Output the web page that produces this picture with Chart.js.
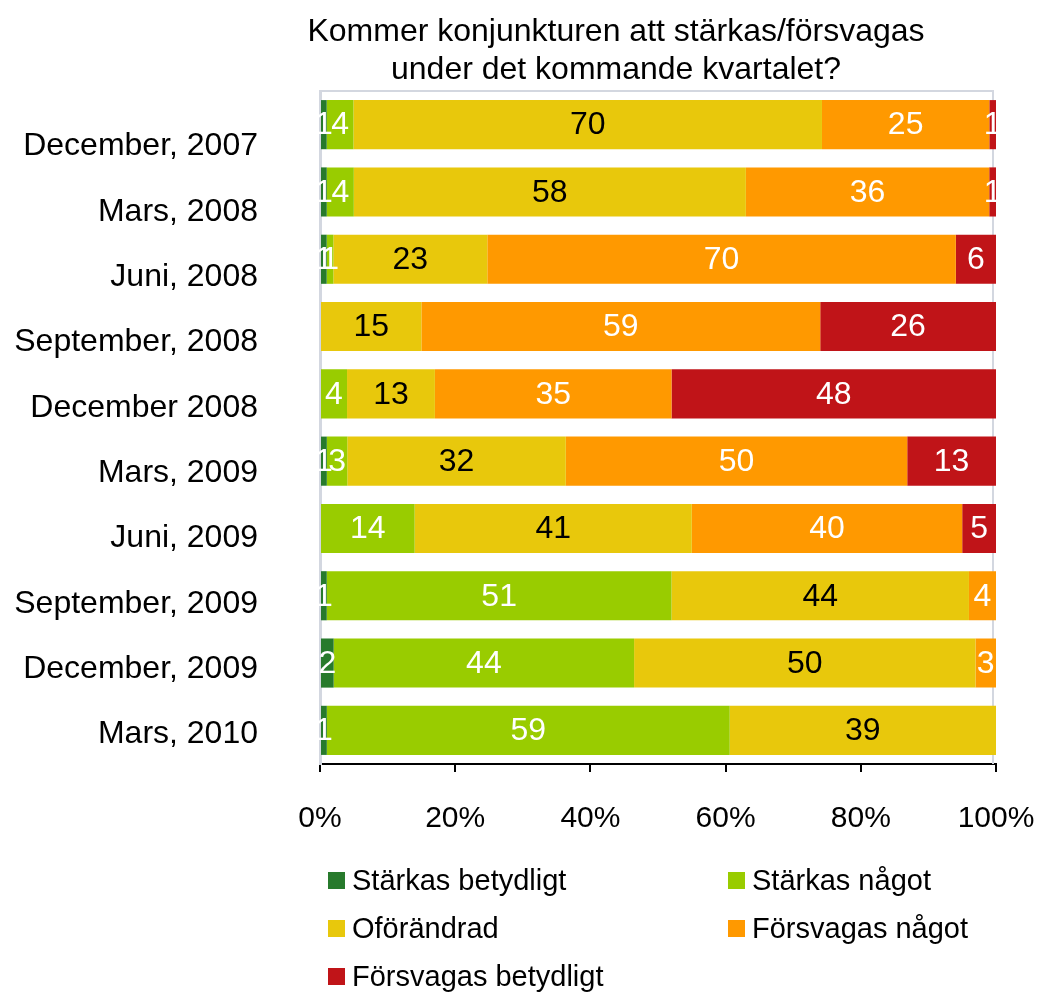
<!DOCTYPE html>
<html>
<head>
<meta charset="utf-8">
<script src="https://cdn.jsdelivr.net/npm/chart.js@4"></script>
<style>
  body { margin: 0; background: #fff; font-family: "Liberation Sans", Arial, sans-serif; }
  #wrap { position: relative; width: 1039px; height: 993px; }
  #title { position: absolute; left: 216px; width: 800px; top: 11px; text-align: center;
           font-size: 32px; line-height: 38px; color: #000; }
  #legend { position: absolute; left: 328px; top: 860px; width: 700px; }
  .item { position: absolute; font-size: 29px; line-height: 40px; color: #000; white-space: nowrap; }
  .box { display: inline-block; width: 17px; height: 17px; margin-right: 7px; vertical-align: 1px; }
</style>
</head>
<body>
<div id="wrap">
  <canvas id="myChart" width="1039" height="993"></canvas>
  <div id="title">Kommer konjunkturen att stärkas/försvagas<br>under det kommande kvartalet?</div>
  <div id="legend"></div>
</div>
<script>
const categories = [
  "December, 2007",
  "Mars, 2008",
  "Juni, 2008",
  "September, 2008",
  "December 2008",
  "Mars, 2009",
  "Juni, 2009",
  "September, 2009",
  "December, 2009",
  "Mars, 2010",
];

const seriesNames = ["Stärkas betydligt", "Stärkas något", "Oförändrad", "Försvagas något", "Försvagas betydligt"];

const starkasBetydligt = [1, 1, 1, 0, 0, 1, 0, 1, 2, 1];
const starkasNagot = [4, 4, 1, 0, 4, 3, 14, 51, 44, 59];
const oforandrad = [70, 58, 23, 15, 13, 32, 41, 44, 50, 39];
const forsvagasNagot = [25, 36, 70, 59, 35, 50, 40, 4, 3, 0];
const forsvagasBetydligt = [1, 1, 6, 26, 48, 13, 5, 0, 0, 0];

const xTicks = [0, 20, 40, 60, 80, 100];

const colors = ["#277a2c", "#99cc00", "#e8c80c", "#ff9900", "#c01418"];
const labelColors = ["#fff", "#fff", "#000", "#fff", "#fff"];

const allSeries = [starkasBetydligt, starkasNagot, oforandrad, forsvagasNagot, forsvagasBetydligt];

// each row shown as share of 100%
const rowSums = categories.map((c, i) => allSeries.reduce((s, arr) => s + arr[i], 0));

const FONT = '"Liberation Sans", Arial, sans-serif';

const barLabels = {
  id: "barLabels",
  afterDatasetsDraw(chart) {
    const ctx = chart.ctx;
    ctx.save();
    ctx.font = "32px " + FONT;
    ctx.textAlign = "center";
    ctx.textBaseline = "middle";
    chart.data.datasets.forEach((ds, di) => {
      const meta = chart.getDatasetMeta(di);
      meta.data.forEach((bar, i) => {
        const v = ds.values[i];
        if (!v) return;
        ctx.fillStyle = labelColors[di];
        ctx.fillText(String(v), (bar.x + bar.base) / 2, bar.y + 1);
      });
    });
    ctx.restore();
  },
};

const frame = {
  id: "frame",
  beforeDatasetsDraw(chart) {
    const a = chart.chartArea;
    const ctx = chart.ctx;
    ctx.save();
    ctx.strokeStyle = "#d3d7e0";
    ctx.lineWidth = 2;
    ctx.beginPath();
    ctx.moveTo(a.left, a.top);
    ctx.lineTo(a.right - 3, a.top);
    ctx.lineTo(a.right - 3, a.bottom);
    ctx.stroke();
    ctx.restore();
  },
};

const ctx = document.getElementById("myChart").getContext("2d");

const myChart = new Chart(ctx, {
  type: "bar",
  data: {
    labels: categories,
    datasets: allSeries.map((arr, di) => ({
      label: seriesNames[di],
      values: arr,
      data: arr.map((v, i) => (v / rowSums[i]) * 100),
      backgroundColor: colors[di],
      borderWidth: 0,
      yAxisID: "y",
      categoryPercentage: 1,
      barPercentage: 0.73,
    })),
  },
  options: {
    indexAxis: "y",
    responsive: false,
    animation: false,
    layout: { padding: { top: 91, right: 43, bottom: 147, left: 0 } },
    plugins: {
      legend: { display: false },
      tooltip: { enabled: false },
    },
    scales: {
      x: {
        stacked: true,
        min: 0,
        max: 100,
        afterBuildTicks: (s) => { s.ticks = xTicks.map((v) => ({ value: v })); },
        afterFit: (s) => { s.height = 82; s.paddingLeft = 0; s.paddingRight = 0; },
        grid: { drawOnChartArea: false, drawTicks: true, tickLength: 8, color: "#000", lineWidth: 2 },
        border: { color: "#000", width: 2 },
        ticks: {
          padding: 29,
          color: "#000",
          font: { family: FONT, size: 30 },
          callback: (v) => v + "%",
        },
      },
      y: {
        stacked: true,
        weight: 0,
        afterFit: (s) => { s.width = 0; },
        grid: { display: false, drawTicks: false },
        border: { color: "#d3d7e0", width: 3 },
        ticks: { display: false },
      },
      // label axis: the category names sit a bit tighter than the bars
      yLabels: {
        type: "linear",
        position: "left",
        weight: 1,
        offset: false,
        reverse: true,
        min: -0.85,
        max: 9.45,
        afterBuildTicks: (s) => { s.ticks = categories.map((c, i) => ({ value: i })); },
        afterFit: (s) => { s.width = 320; },
        grid: { display: false, drawTicks: false },
        border: { display: false },
        ticks: {
          padding: 62,
          color: "#000",
          font: { family: FONT, size: 32 },
          callback: (v) => categories[v],
        },
      },
    },
  },
  plugins: [frame, barLabels],
});

// legend in two columns
const legendPos = [[0, 0], [400, 0], [0, 48], [400, 48], [0, 96]];
const legendEl = document.getElementById("legend");
seriesNames.forEach((name, i) => {
  const d = document.createElement("div");
  d.className = "item";
  d.style.left = legendPos[i][0] + "px";
  d.style.top = legendPos[i][1] + "px";
  d.innerHTML = '<span class="box" style="background:' + colors[i] + '"></span>' + name;
  legendEl.appendChild(d);
});
</script>
</body>
</html>
